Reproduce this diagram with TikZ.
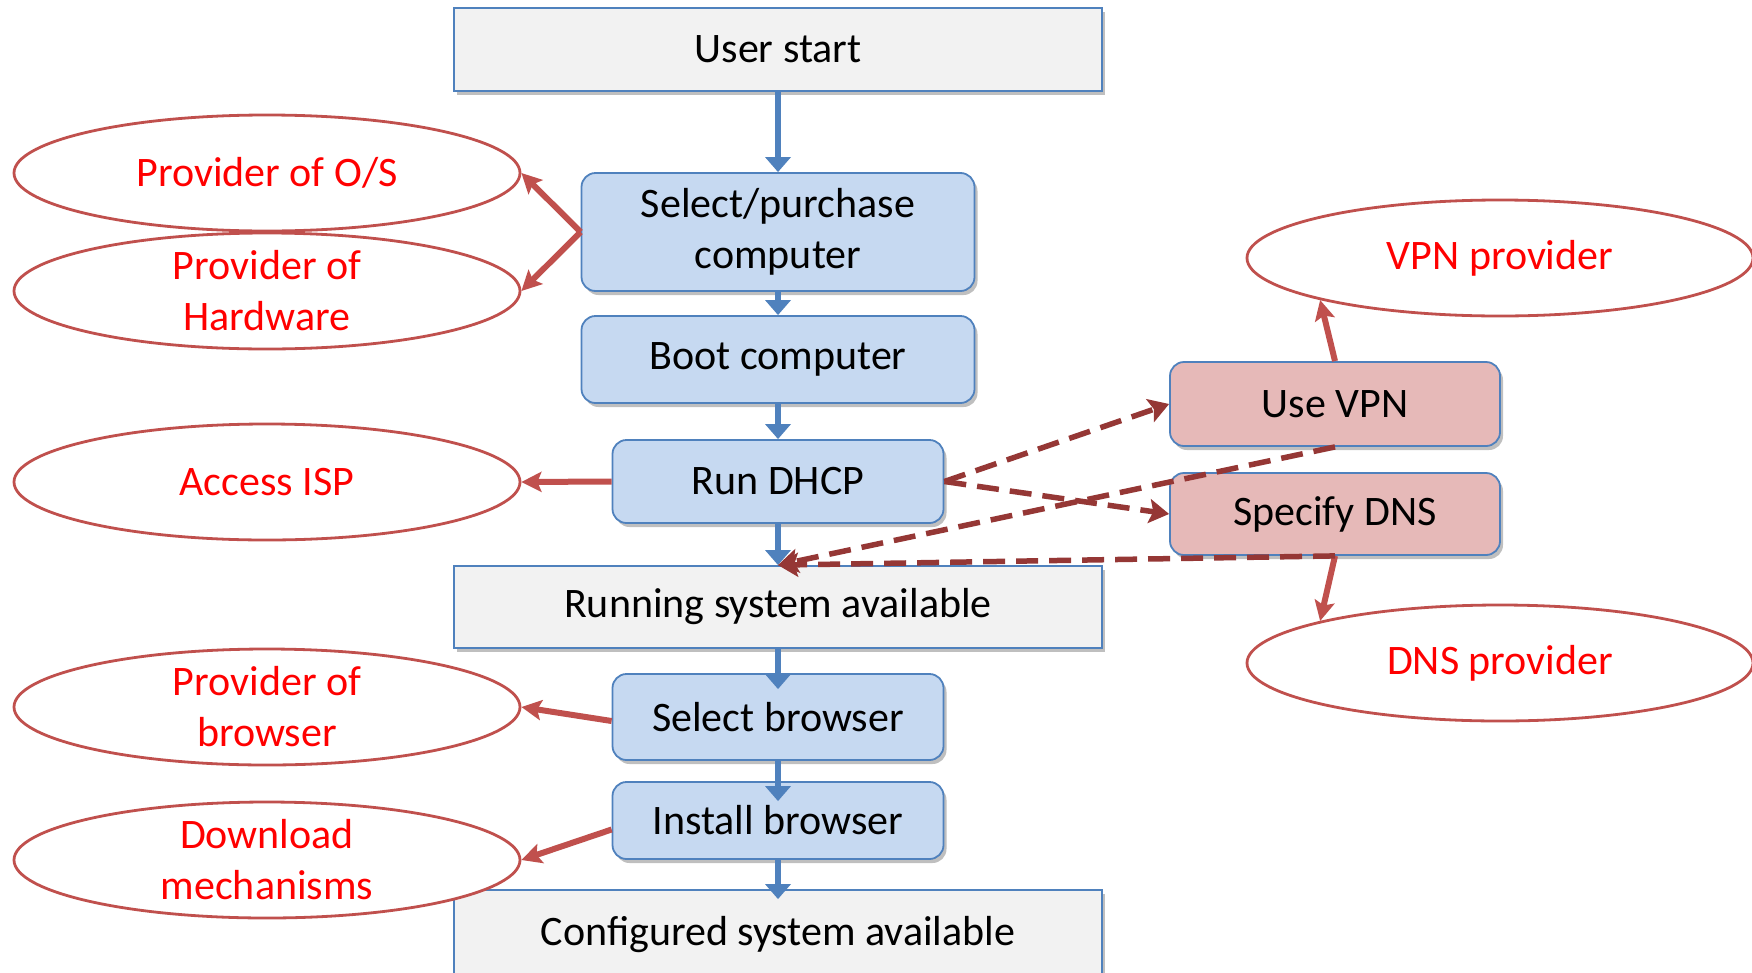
\documentclass[tikz,border=0pt]{standalone}
\usepackage{fontspec}
\setmainfont{Carlito}
\usetikzlibrary{arrows.meta,shapes.geometric,shadows}
\definecolor{bfill}{HTML}{C6D9F1}
\definecolor{bline}{HTML}{4F81BD}
\definecolor{gfill}{HTML}{F2F2F2}
\definecolor{pfill}{HTML}{E6B9B8}
\definecolor{rline}{HTML}{C0504D}
\definecolor{dred}{HTML}{953735}
\begin{document}
\begin{tikzpicture}[x=1pt,y=-1pt,font=\fontsize{42}{51}\selectfont,
  box/.style={draw=bline, line width=1.8pt, align=center, inner sep=0pt,
    drop shadow={shadow xshift=3pt, shadow yshift=-4pt, opacity=0.25, fill=black}},
  gbox/.style={box, fill=gfill},
  bbox/.style={box, fill=bfill, rounded corners=14pt},
  pbox/.style={box, fill=pfill, rounded corners=14pt},
  oval/.style={ellipse, draw=rline, line width=2.8pt, fill=white, text=red, align=center,
    inner sep=0pt, minimum width=506pt, minimum height=116pt},
  flow/.style={draw=bline, line width=6pt, -{Triangle[length=15pt,width=25pt]}},
  link/.style={draw=rline, line width=6pt, -{Stealth[length=20pt,width=20pt,inset=4pt]}},
  dlink/.style={draw=dred, line width=5.5pt, dash pattern=on 22pt off 11pt, -{Stealth[length=20pt,width=24pt,inset=4pt]}}]
\useasboundingbox (0,0) rectangle (1752,972);
% flow boxes
\node[gbox, minimum width=648pt, minimum height=83pt] (start) at (778,49.5) {User start};
\node[bbox, minimum width=393pt, minimum height=118pt] (sel) at (778,232) {Select/purchase\\computer};
\node[bbox, minimum width=393pt, minimum height=87pt] (boot) at (778,359.5) {Boot computer};
\node[bbox, minimum width=331pt, minimum height=83pt] (dhcp) at (778,481.5) {Run DHCP};
\node[gbox, minimum width=648pt, minimum height=82pt] (run) at (778,607) {Running system available};
\node[bbox, minimum width=331pt, minimum height=86pt] (sb) at (778,717) {Select browser};
\node[bbox, minimum width=331pt, minimum height=77pt] (ib) at (778,820.5) {Install browser};
\node[gbox, minimum width=648pt, minimum height=90pt] (conf) at (778,935) {Configured system available};
\node[pbox, minimum width=330pt, minimum height=84pt] (vpn) at (1335,404) {Use VPN};
\node[pbox, minimum width=330pt, minimum height=82pt] (dns) at (1335,514) {Specify DNS};
% ellipses
\node[oval] (os) at (267,173) {Provider of O/S};
\node[oval] (hw) at (267,291) {Provider of\\Hardware};
\node[oval] (isp) at (267,482) {Access ISP};
\node[oval] (pb) at (267,707) {Provider of\\browser};
\node[oval] (dl) at (267,860) {Download\\mechanisms};
\node[oval] (vpnp) at (1500,258) {VPN provider};
\node[oval] (dnsp) at (1500,663) {DNS provider};
% blue flow arrows
\draw[flow] (start) -- (sel);
\draw[flow] (sel) -- (boot);
\draw[flow] (boot) -- (dhcp);
\draw[flow] (dhcp.south) -- (run.north);
\draw[flow] (run.south) -- ([yshift=-16pt]sb.north);
\draw[flow] (sb.south) -- ([yshift=-20pt]ib.north);
\draw[flow] (ib.south) -- ([yshift=-10pt]conf.north);
% red links
\draw[link] (sel.west) -- (os.east);
\draw[link] (sel.west) -- (hw.east);
\draw[link] (dhcp.west) -- (isp.east);
\draw[link] ([yshift=-4pt]sb.west) -- (pb.east);
\draw[link] ([yshift=-9pt]ib.west) -- (dl.east);
\draw[link] (vpn.north) -- (vpnp.south west);
\draw[link] (dns.south) -- (dnsp.north west);
% dashed links
\draw[dlink] (dhcp.east) -- (vpn.west);
\draw[dlink] (dhcp.east) -- (dns.west);
\draw[dlink] (vpn.south) -- (run.north);
\draw[dlink] (dns.south) -- (run.north);
\end{tikzpicture}
\end{document}
